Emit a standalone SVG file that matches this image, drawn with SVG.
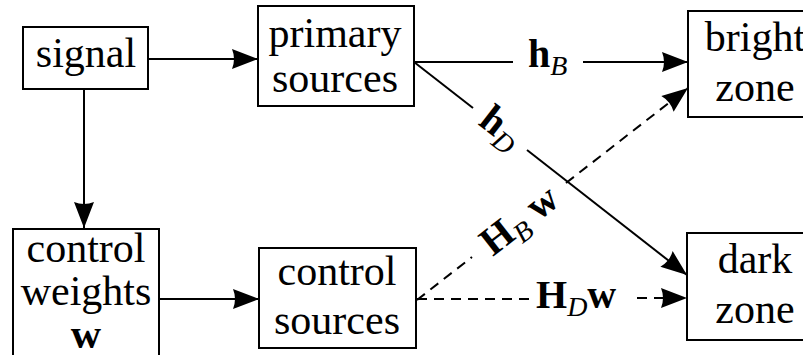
<svg xmlns="http://www.w3.org/2000/svg" width="803" height="355" viewBox="0 0 803 355" font-family="Liberation Serif, DejaVu Serif, serif">
<defs>
<style>
.box{fill:#fff;stroke:#000;stroke-width:2}
.lbl{font-size:42px;fill:#000;text-anchor:middle}
.math{font-size:40px;font-weight:bold;fill:#000}
.sub{font-style:italic;font-weight:normal;font-size:28px}
.ln{stroke:#000;stroke-width:2;fill:none}
.dash{stroke-dasharray:10 7}
</style>
<marker id="arr" markerUnits="userSpaceOnUse" markerWidth="28" markerHeight="22" refX="26" refY="10" orient="auto" viewBox="0 0 28 22" overflow="visible">
<path d="M0,0 L26,10 L0,20 Q4,10 0,0 Z" fill="#000" stroke="none"/>
</marker>
</defs>
<rect width="803" height="355" fill="#fff"/>

<g id="connectors">
<line class="ln" x1="148" y1="59" x2="258" y2="59" marker-end="url(#arr)"/>
<line class="ln" x1="84" y1="89" x2="84" y2="228" marker-end="url(#arr)"/>
<line class="ln" x1="159" y1="299" x2="259" y2="299" marker-end="url(#arr)"/>
<line class="ln" x1="414" y1="62" x2="513" y2="62"/>
<line class="ln" x1="583" y1="62" x2="688" y2="62" marker-end="url(#arr)"/>
<line class="ln" x1="414" y1="62" x2="473" y2="108"/>
<line class="ln" x1="527" y1="150" x2="687" y2="275" marker-end="url(#arr)"/>
<line class="ln dash" x1="417" y1="300" x2="472" y2="257"/>
<line class="ln dash" x1="566" y1="183" x2="688" y2="88" marker-end="url(#arr)"/>
<line class="ln dash" x1="417" y1="299" x2="531" y2="299"/>
<line class="ln dash" x1="637" y1="298" x2="687" y2="298" marker-end="url(#arr)"/>
<text class="math" font-family="Liberation Serif, serif" x="528" y="67">h<tspan class="sub" dy="8">B</tspan></text>
<text class="math" font-family="Liberation Serif, serif" text-anchor="middle" transform="translate(500,129) rotate(38)" y="10">h<tspan class="sub" dy="8">D</tspan></text>
<text class="math" font-family="Liberation Serif, serif" text-anchor="middle" transform="translate(519,220) rotate(-38)" y="13">H<tspan class="sub" dy="8">B</tspan><tspan dy="-8"> w</tspan></text>
<text class="math" font-family="Liberation Serif, serif" x="536" y="308">H<tspan class="sub" dy="8">D</tspan><tspan dy="-8">w</tspan></text>
</g>

<g id="signal">
<rect class="box" x="23" y="27" width="125" height="62"/>
<text class="lbl" font-family="Liberation Serif, serif" x="86" y="67">signal</text>
</g>
<g id="primary-sources">
<rect class="box" x="258" y="6" width="156" height="100"/>
<text class="lbl" font-family="Liberation Serif, serif" x="335" y="47">primary</text>
<text class="lbl" font-family="Liberation Serif, serif" x="335" y="92">sources</text>
</g>
<g id="bright-zone">
<rect class="box" x="688" y="11" width="160" height="106"/>
<text class="lbl" font-family="Liberation Serif, serif" x="755" y="51">bright</text>
<text class="lbl" font-family="Liberation Serif, serif" x="755" y="101">zone</text>
</g>
<g id="control-weights">
<rect class="box" x="13" y="229" width="146" height="160"/>
<text class="lbl" font-family="Liberation Serif, serif" x="86" y="262">control</text>
<text class="lbl" font-family="Liberation Serif, serif" x="86" y="305">weights</text>
<text class="lbl" font-family="Liberation Serif, serif" x="86" y="348" font-weight="bold" font-size="38">w</text>
</g>
<g id="control-sources">
<rect class="box" x="259" y="248" width="157" height="100"/>
<text class="lbl" font-family="Liberation Serif, serif" x="337" y="285">control</text>
<text class="lbl" font-family="Liberation Serif, serif" x="337" y="334">sources</text>
</g>
<g id="dark-zone">
<rect class="box" x="687" y="233" width="160" height="107"/>
<text class="lbl" font-family="Liberation Serif, serif" x="755" y="273">dark</text>
<text class="lbl" font-family="Liberation Serif, serif" x="755" y="323">zone</text>
</g>
</svg>
